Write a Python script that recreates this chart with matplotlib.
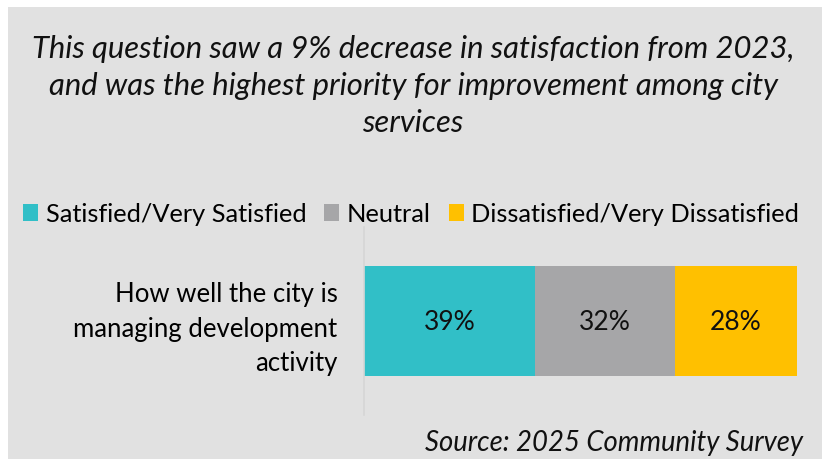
import matplotlib.pyplot as plt
from matplotlib.patches import Rectangle

# survey results for one question (percent of respondents)
categories = ['Satisfied/Very Satisfied', 'Neutral', 'Dissatisfied/Very Dissatisfied']
values = [39, 32, 28]
colors = ['#31BFC7', '#A6A6A8', '#FFC000']
question = 'How well the city is\nmanaging development\nactivity'
headline = ('This question saw a 9% decrease in satisfaction from 2023,\n'
            'and was the highest priority for improvement among city\n'
            'services')
source = 'Source: 2025 Community Survey'

plt.rcParams['font.family'] = ['Lato', 'DejaVu Sans']

W, H = 822, 460
fig = plt.figure(figsize=(W / 100, H / 100), dpi=100)
fig.patch.set_facecolor('white')
bg = '#E1E1E1'
fig.patches.append(Rectangle((8 / W, 0), (W - 8) / W, (H - 8) / H,
                             transform=fig.transFigure, facecolor=bg,
                             edgecolor='none', zorder=-5))

ax = fig.add_axes([364 / W, (H - 416) / H, 433 / W, 188 / H])
ax.set_facecolor('none')

left = 0
for cat, val, col in zip(categories, values, colors):
    ax.barh(0, val, left=left, height=0.59, color=col, label=cat)
    ax.text(left + val / 2, 0, f'{val}%', ha='center', va='center',
            fontsize=19, color='#111111')
    left += val

ax.set_xlim(0, sum(values))
ax.set_ylim(-0.5, 0.5)
ax.set_xticks([])
ax.set_yticks([0])
ax.set_yticklabels([question], fontsize=18.5, linespacing=1.46)
ax.tick_params(axis='y', length=0, pad=19)
for side in ['top', 'right', 'bottom']:
    ax.spines[side].set_visible(False)
ax.spines['left'].set_color('#D6D6D6')
ax.spines['left'].set_linewidth(1.2)

fig.legend(loc='center', bbox_to_anchor=(411 / W, (H - 215) / H), ncol=3,
           frameon=False, fontsize=18.3, handlelength=0.6, handleheight=0.6,
           handletextpad=0.3, columnspacing=0.7, borderpad=0)

fig.text(413 / W, (H - 86) / H, headline, ha='center', va='center',
         fontsize=22.3, style='italic', linespacing=1.38, color='#111111')
fig.text(803 / W, (H - 443) / H, source, ha='right', va='center',
         fontsize=19.8, style='italic', color='#111111')

fig.savefig('out.png', dpi=100, facecolor=fig.get_facecolor())
